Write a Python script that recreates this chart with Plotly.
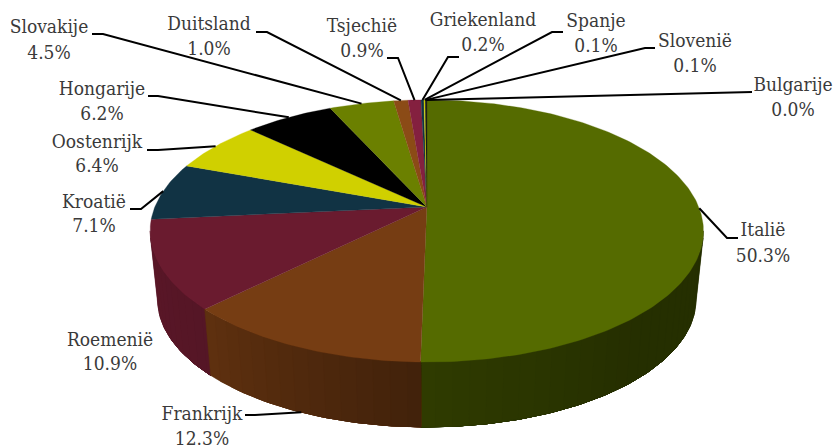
import math
import plotly.graph_objects as go

# Share per country, clockwise from twelve o'clock
countries = ["Italië", "Frankrijk", "Roemenië", "Kroatië", "Oostenrijk", "Hongarije", "Slovakije",
             "Duitsland", "Tsjechië", "Griekenland", "Spanje", "Slovenië", "Bulgarije"]
shares = [50.3, 12.3, 10.9, 7.1, 6.4, 6.2, 4.5, 1.0, 0.9, 0.2, 0.1, 0.1, 0.0]
slice_colors = ["#556B00", "#763D13", "#6A1B2F", "#113344", "#D0D000", "#000000", "#6B8000",
                "#8B4B16", "#84203F", "#113344", "#D0D000", "#000000", "#6B8000"]

# Label placement: centre x, y of name line, y of value line, then leader elbow points
label_layout = {
    "Italië": (763, 231, 257, [(738, 238), (727, 238)], "top"),
    "Frankrijk": (202, 415, 440, [(245, 415), (255, 415)], "bottom"),
    "Roemenië": (110, 341, 365, [], "top"),
    "Kroatië": (94, 203, 227, [(130, 209), (141, 209)], "top"),
    "Oostenrijk": (97, 143, 167, [(147, 150), (158, 150)], "top"),
    "Hongarije": (102, 90, 115, [(148, 96), (158, 96)], "top"),
    "Slovakije": (49, 28, 54, [(92, 34), (103, 34)], "top"),
    "Duitsland": (209, 25, 50, [(256, 32), (267, 32)], "top"),
    "Tsjechië": (362, 27, 52, [(387, 58), (398, 58)], "top"),
    "Griekenland": (483, 21, 46, [(459, 57), (448, 57)], "top"),
    "Spanje": (596, 22, 47, [(563, 32), (552, 32)], "top"),
    "Slovenië": (695, 42, 67, [(655, 48), (645, 48)], "top"),
    "Bulgarije": (793, 86, 111, [(752, 92)], "top"),
}

# Projection of the disc: apex, radii, perspective strength, thickness of the wall
CX, CY = 426.8, 207.0
RX, RY = 272.0, 126.7
PERSP = 0.183
BASE_SCALE = 0.973
BASE_DROP = 69.0

# Clock angles between which the wall faces the viewer
WALL_FROM, WALL_TO = 100.5, 259.5
# Wall brightness by clock angle (degrees -> factor on the slice colour)
SHADE_STOPS = [(60, 0.44), (140, 0.44), (180, 0.55), (225, 0.80), (270, 0.87), (300, 0.88)]
TEXT_COLOR = "#3a3a3a"
FONT = "DejaVu Serif Condensed, DejaVu Serif, serif"


def project(deg, base=False):
    t = math.radians(deg)
    across, toward = math.sin(t), -math.cos(t)
    w = 1 - PERSP * toward
    scale = BASE_SCALE if base else 1.0
    drop = BASE_DROP if base else 0.0
    return CX + scale * RX * across / w, CY + drop + scale * RY * toward / w


def shade(deg):
    for (a0, f0), (a1, f1) in zip(SHADE_STOPS, SHADE_STOPS[1:]):
        if a0 <= deg <= a1:
            return f0 + (f1 - f0) * (deg - a0) / (a1 - a0)
    return SHADE_STOPS[-1][1]


def dim(color, factor):
    r, g, b = (int(color[i:i + 2], 16) for i in (1, 3, 5))
    return f"rgb({r * factor:.0f},{g * factor:.0f},{b * factor:.0f})"


def polygon(points, color, edge=0.6):
    xs, ys = zip(*points)
    return go.Scatter(x=list(xs) + [xs[0]], y=list(ys) + [ys[0]], mode="lines", fill="toself",
                      fillcolor=color, line=dict(color=color, width=edge),
                      hoverinfo="skip", showlegend=False)


def wall_band(a, b, color, mid):
    n = max(1, int(abs(b - a)))
    arc = [a + (b - a) * i / n for i in range(n + 1)]
    outline = [project(d) for d in arc] + [project(d, True) for d in reversed(arc)]
    return polygon(outline, dim(color, shade(mid)), edge=0.5)


total = sum(shares)
spans = []
running = 0.0
for share in shares:
    spans.append((running / total * 360, (running + share) / total * 360))
    running += share

fig = go.Figure()

# Side wall, painted from the sides towards the front. Each band runs on to the front end
# of its slice and the next band paints over it, so no seams show between shading steps.
STEP = 3.0
for (start, end), color in zip(spans, slice_colors):
    lo, hi = max(start, WALL_FROM), min(end, WALL_TO)
    if hi <= lo or lo >= 180:
        continue
    a = lo
    while a < hi:
        fig.add_trace(wall_band(a, hi, color, min(a + STEP / 2, hi)))
        a += STEP
for (start, end), color in reversed(list(zip(spans, slice_colors))):
    lo, hi = max(start, WALL_FROM), min(end, WALL_TO)
    if hi <= lo or lo < 180:
        continue
    a = hi
    while a > lo:
        fig.add_trace(wall_band(a, lo, color, max(a - STEP / 2, lo)))
        a -= STEP

# Top face
for (start, end), color in zip(spans, slice_colors):
    if end <= start:
        continue
    n = max(2, int((end - start) / 1.0) + 1)
    rim = [project(start + (end - start) * i / n) for i in range(n + 1)]
    fig.add_trace(polygon([(CX, CY)] + rim, color, edge=0.3))

# Leader lines run from the label elbow to the rim at the middle of each slice
for name, (start, end) in zip(countries, spans):
    _, _, _, elbow, rim_level = label_layout[name]
    if not elbow:
        continue
    end_pt = project((start + end) / 2, base=rim_level == "bottom")
    pts = elbow + [end_pt]
    fig.add_trace(go.Scatter(x=[p[0] for p in pts], y=[p[1] for p in pts], mode="lines",
                             line=dict(color="#000000", width=2), hoverinfo="skip", showlegend=False))

# Two-line labels: country name and its share
label_x, label_y, label_text = [], [], []
for name, share in zip(countries, shares):
    x, y_name, y_value, _, _ = label_layout[name]
    label_x += [x, x]
    label_y += [y_name, y_value]
    label_text += [name, f"{share:.1f}%"]
fig.add_trace(go.Scatter(x=label_x, y=label_y, text=label_text, mode="text", textposition="middle center",
                         textfont=dict(family=FONT, size=19, color=TEXT_COLOR),
                         hoverinfo="skip", showlegend=False))

fig.update_layout(
    width=833, height=448, margin=dict(l=0, r=0, t=0, b=0),
    paper_bgcolor="white", plot_bgcolor="white", showlegend=False,
    xaxis=dict(range=[0, 833], visible=False, fixedrange=True),
    yaxis=dict(range=[448, 0], visible=False, fixedrange=True),
)
fig.write_html("out.html", config={"displayModeBar": False})
